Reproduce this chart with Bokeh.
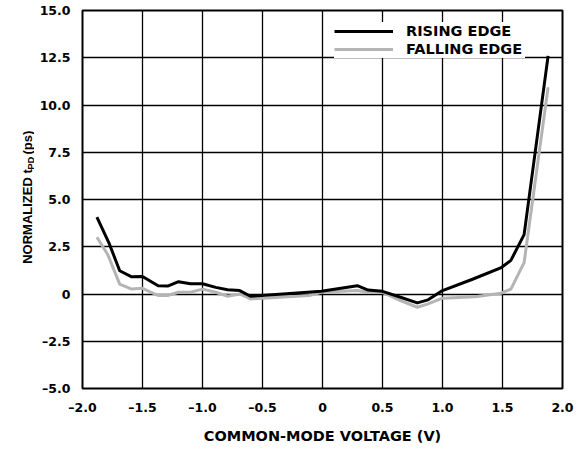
import math
from bokeh.plotting import figure
from bokeh.layouts import row
from bokeh.models import (FixedTicker, CustomJSTickFormatter, Legend, LegendItem, Range1d)
from bokeh.core.properties import value
from bokeh.embed import file_html
from bokeh.resources import INLINE

# ---- data ----
x_rise = [-1.88, -1.78, -1.69, -1.59, -1.50, -1.37, -1.29, -1.20, -1.10, -1.00, -0.89, -0.79,
          -0.69, -0.60, -0.30, -0.01, 0.29, 0.38, 0.50, 0.65, 0.79, 0.88, 1.00, 1.25, 1.49,
          1.57, 1.68, 1.88]
y_rise = [4.07, 2.71, 1.23, 0.91, 0.93, 0.44, 0.42, 0.65, 0.54, 0.54, 0.35, 0.23,
          0.18, -0.12, 0.01, 0.14, 0.44, 0.21, 0.14, -0.17, -0.47, -0.31, 0.18, 0.78, 1.40,
          1.78, 3.14, 12.6]

x_fall = [-1.88, -1.79, -1.69, -1.59, -1.50, -1.37, -1.29, -1.20, -1.10, -1.00, -0.89, -0.79,
          -0.69, -0.60, -0.11, -0.01, 0.29, 0.38, 0.50, 0.65, 0.79, 0.88, 1.00, 1.27, 1.49,
          1.57, 1.68, 1.88]
y_fall = [3.00, 2.09, 0.52, 0.26, 0.30, -0.08, -0.08, 0.09, 0.09, 0.26, 0.09, -0.12,
          0.00, -0.26, -0.08, 0.09, 0.18, 0.09, 0.09, -0.35, -0.70, -0.52, -0.22, -0.14, 0.04,
          0.26, 1.66, 10.94]

x_ticks = [-2.0, -1.5, -1.0, -0.5, 0.0, 0.5, 1.0, 1.5, 2.0]
y_ticks = [-5.0, -2.5, 0.0, 2.5, 5.0, 7.5, 10.0, 12.5, 15.0]

series_names = ["RISING EDGE", "FALLING EDGE"]
x_title = "COMMON-MODE VOLTAGE (V)"
y_title_main = "NORMALIZED t"
y_title_sub = "PD"
y_title_end = " (ps)"

TICK_FONT = "DejaVu Sans"
X0, X1, Y0, Y1 = -2.0, 2.0, -5.0, 15.0
FW, FH = 480, 382          # frame size in px
LW = 34                    # width of the strip holding the y title
BL, BT, W, H = 82, 10, 580, 446

# ---- narrow strip with the rotated y-axis title ----
# (its frame is aligned with the main frame by the row layout: pixel units from frame bottom)
lf = figure(width=LW, height=H, output_backend="svg", toolbar_location=None,
            x_range=Range1d(0, LW), y_range=Range1d(0, FH), title=None,
            x_axis_location=None, y_axis_location=None,
            min_border_left=0, min_border_right=0, min_border_top=BT,
            min_border_bottom=H - BT - FH)
lf.outline_line_color = None
lf.grid.visible = False
lf.background_fill_color = "white"
lf.border_fill_color = "white"

base_x = 27                 # baseline x (px from left)
start_y = BT + FH - 266     # px above frame bottom where the title starts

def ytxt(fig, txt, x, y, size):
    fig.text(x=[x], y=[y], text=[txt], angle=math.pi / 2,
             text_align="left", text_baseline="alphabetic",
             text_font=value("Liberation Sans"), text_font_style="bold",
             text_font_size=value(size), text_color="black")

ytxt(lf, y_title_main, base_x, start_y, "13px")
ytxt(lf, y_title_sub, base_x + 2.5, start_y + 95, "9.5px")
ytxt(lf, y_title_end, base_x, start_y + 110.5, "13px")

# ---- main chart ----
p = figure(width=W - LW, height=H, output_backend="svg", toolbar_location=None,
           x_range=Range1d(X0, X1), y_range=Range1d(Y0, Y1),
           min_border_left=BL - LW, min_border_right=W - BL - FW,
           min_border_top=BT, min_border_bottom=H - BT - FH)
p.background_fill_color = "white"
p.border_fill_color = "white"
p.outline_line_color = "black"
p.outline_line_width = 2

fmt = CustomJSTickFormatter(code="""
if (Math.abs(tick) < 1e-9) { return "0"; }
return (tick < 0 ? "\u2013" : "") + Math.abs(tick).toFixed(1);
""")

p.xaxis.ticker = FixedTicker(ticks=x_ticks)
p.yaxis.ticker = FixedTicker(ticks=y_ticks)
for ax in (p.xaxis[0], p.yaxis[0]):
    ax.formatter = fmt
    ax.axis_line_color = None
    ax.major_tick_line_color = None
    ax.minor_tick_line_color = None
    ax.major_tick_in = 0
    ax.major_tick_out = 0
    ax.major_label_text_font = TICK_FONT
    ax.major_label_text_font_style = "bold"
    ax.major_label_text_font_size = "12.5px"
    ax.major_label_text_color = "black"

p.xaxis.major_label_standoff = 11
p.yaxis.major_label_standoff = 12
p.xaxis.axis_label = x_title
p.xaxis.axis_label_text_font = TICK_FONT
p.xaxis.axis_label_text_font_style = "bold"
p.xaxis.axis_label_text_font_size = "14.5px"
p.xaxis.axis_label_text_color = "black"
p.xaxis.axis_label_standoff = 10

p.grid.grid_line_color = "black"
p.grid.grid_line_width = 1.3
p.grid.grid_line_alpha = 1.0

r1 = p.line(x_rise, y_rise, line_color="black", line_width=3, line_join="round")
r2 = p.line(x_fall, y_fall, line_color="#b4b4b4", line_width=3, line_join="round")
p.renderers = [r2, r1]

legend = Legend(items=[LegendItem(label=series_names[0], renderers=[r1]),
                       LegendItem(label=series_names[1], renderers=[r2])],
                location=(252, 330), orientation="vertical")
legend.label_text_font = TICK_FONT
legend.label_text_font_style = "bold"
legend.label_text_font_size = "14.5px"
legend.label_text_color = "black"
legend.glyph_width = 59
legend.glyph_height = 18
legend.label_height = 18
legend.label_width = 119
legend.label_standoff = 13
legend.spacing = 0
legend.padding = 4
legend.margin = 0
legend.border_line_color = None
legend.background_fill_color = "white"
legend.background_fill_alpha = 1.0
p.add_layout(legend, "center")

layout = row(lf, p, spacing=0)
open("out.html", "w").write(file_html(layout, INLINE))
